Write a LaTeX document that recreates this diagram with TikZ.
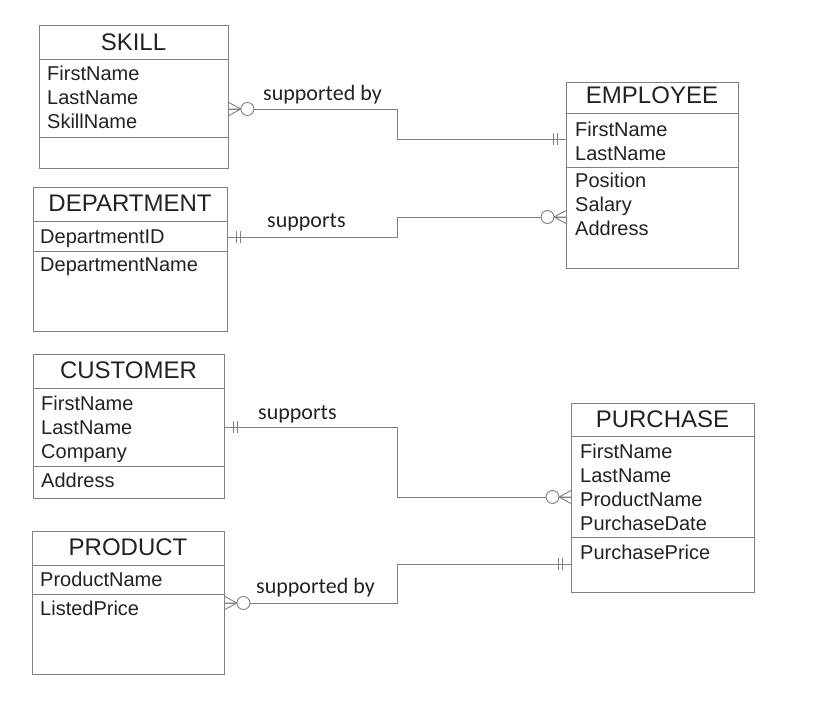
\documentclass[tikz,border=0pt]{standalone}
\usepackage{fontspec}
\setmainfont{Liberation Sans}
\newfontfamily\lblfont{Carlito}
\definecolor{lgray}{HTML}{808080}
\definecolor{txt}{HTML}{222222}
\tikzset{
  ebox/.style={draw=lgray, line width=0.9pt, inner sep=0pt, anchor=north west},
  sep/.style={draw=lgray, line width=0.9pt},
  conn/.style={draw=lgray, line width=0.9pt},
  ttl/.style={anchor=base, inner sep=0pt, text=txt, font=\fontsize{24}{28}\selectfont},
  attr/.style={anchor=base west, inner sep=0pt, text=txt, font=\fontsize{20}{24}\selectfont},
  lbl/.style={anchor=base west, inner sep=0pt, text=txt, font=\lblfont\fontsize{22}{26}\selectfont},
  zeromany/.pic={
    \draw[lgray, line width=0.9pt] (0,-6.5) -- (12,0) (0,6.5) -- (12,0) (0,0) -- (12,0);
    \draw[lgray, line width=0.9pt, fill=white] (18.5,0) circle (6.5);
  },
  onlyone/.pic={
    \draw[lgray, line width=0.9pt] (9,-6) -- (9,6) (13,-6) -- (13,6);
  }
}
\begin{document}
\begin{tikzpicture}[x=1pt,y=-1pt]
\useasboundingbox (0,0) rectangle (825,703);
% ---------- SKILL
\node[ebox, minimum width=189pt, minimum height=143pt] (skill) at (39,25) {};
\draw[sep] (skill.west |- 0,59) -- (skill.east |- 0,59);
\draw[sep] (skill.west |- 0,137) -- (skill.east |- 0,137);
\node[ttl] (skillT) at (133.5,51) {SKILL};
\node[attr] (skill1) at (47,81) {FirstName};
\node[attr] (skill2) at (47,105) {LastName};
\node[attr] (skill3) at (47,129) {SkillName};
% ---------- DEPARTMENT
\node[ebox, minimum width=194pt, minimum height=144pt] (dept) at (33,187) {};
\draw[sep] (dept.west |- 0,221) -- (dept.east |- 0,221);
\draw[sep] (dept.west |- 0,251) -- (dept.east |- 0,251);
\node[ttl] (deptT) at (130,212) {DEPARTMENT};
\node[attr] (dept1) at (40,244) {DepartmentID};
\node[attr] (dept2) at (40,272) {DepartmentName};
% ---------- EMPLOYEE
\node[ebox, minimum width=172pt, minimum height=186pt] (emp) at (566,82) {};
\draw[sep] (emp.west |- 0,113) -- (emp.east |- 0,113);
\draw[sep] (emp.west |- 0,167) -- (emp.east |- 0,167);
\node[ttl] (empT) at (652,104) {EMPLOYEE};
\node[attr] (emp1) at (575,137) {FirstName};
\node[attr] (emp2) at (575,161) {LastName};
\node[attr] (emp3) at (575,188) {Position};
\node[attr] (emp4) at (575,212) {Salary};
\node[attr] (emp5) at (575,236) {Address};
% ---------- CUSTOMER
\node[ebox, minimum width=191pt, minimum height=144pt] (cust) at (33,354) {};
\draw[sep] (cust.west |- 0,388) -- (cust.east |- 0,388);
\draw[sep] (cust.west |- 0,466) -- (cust.east |- 0,466);
\node[ttl] (custT) at (128.5,379) {CUSTOMER};
\node[attr] (cust1) at (41,410) {FirstName};
\node[attr] (cust2) at (41,434) {LastName};
\node[attr] (cust3) at (41,458) {Company};
\node[attr] (cust4) at (41,487) {Address};
% ---------- PRODUCT
\node[ebox, minimum width=192pt, minimum height=143pt] (prod) at (32,531) {};
\draw[sep] (prod.west |- 0,565) -- (prod.east |- 0,565);
\draw[sep] (prod.west |- 0,594) -- (prod.east |- 0,594);
\node[ttl] (prodT) at (128,555) {PRODUCT};
\node[attr] (prod1) at (40,586) {ProductName};
\node[attr] (prod2) at (40,615) {ListedPrice};
% ---------- PURCHASE
\node[ebox, minimum width=183pt, minimum height=189pt] (purch) at (571,403) {};
\draw[sep] (purch.west |- 0,436) -- (purch.east |- 0,436);
\draw[sep] (purch.west |- 0,537) -- (purch.east |- 0,537);
\node[ttl] (purchT) at (662.5,428) {PURCHASE};
\node[attr] (purch1) at (580,458) {FirstName};
\node[attr] (purch2) at (580,482) {LastName};
\node[attr] (purch3) at (580,506) {ProductName};
\node[attr] (purch4) at (580,530) {PurchaseDate};
\node[attr] (purch5) at (580,559) {PurchasePrice};
% ---------- connectors
\coordinate (c1a) at (skill.east |- 0,109);
\coordinate (c1b) at (emp.west |- 0,139);
\draw[conn] (c1a) -- (397,109) -- (397,139) -- (c1b);
\pic at (c1a) {zeromany};
\pic[xscale=-1] at (c1b) {onlyone};
\node[lbl] (l1) at (263,101) {supported by};

\coordinate (c2a) at (dept.east |- 0,237);
\coordinate (c2b) at (emp.west |- 0,217);
\draw[conn] (c2a) -- (397,237) -- (397,217) -- (c2b);
\pic at (c2a) {onlyone};
\pic[xscale=-1] at (c2b) {zeromany};
\node[lbl] (l2) at (267,228) {supports};

\coordinate (c3a) at (cust.east |- 0,427);
\coordinate (c3b) at (purch.west |- 0,497);
\draw[conn] (c3a) -- (397,427) -- (397,497) -- (c3b);
\pic at (c3a) {onlyone};
\pic[xscale=-1] at (c3b) {zeromany};
\node[lbl] (l3) at (258,419) {supports};

\coordinate (c4a) at (prod.east |- 0,603);
\coordinate (c4b) at (purch.west |- 0,564);
\draw[conn] (c4a) -- (397,603) -- (397,564) -- (c4b);
\pic at (c4a) {zeromany};
\pic[xscale=-1] at (c4b) {onlyone};
\node[lbl] (l4) at (256,593) {supported by};
\end{tikzpicture}
\end{document}
